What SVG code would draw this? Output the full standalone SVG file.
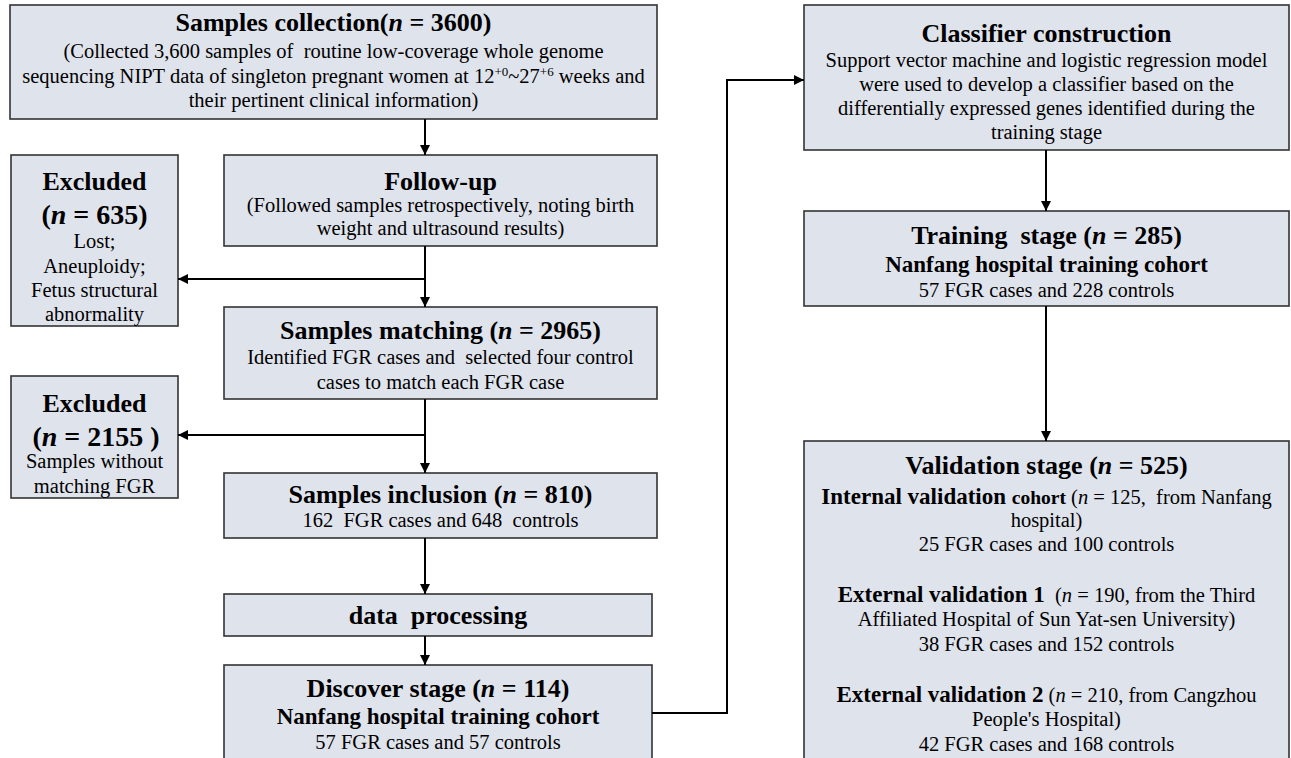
<svg xmlns="http://www.w3.org/2000/svg" width="1291" height="758" viewBox="0 0 1291 758">
<defs>
<marker id="ah" viewBox="0 0 10 10" refX="10" refY="5" markerWidth="5" markerHeight="5" orient="auto" markerUnits="strokeWidth">
<path d="M0,0 L10,5 L0,10 z" fill="#000"/>
</marker>
<style>
.box{fill:#dfe3ec;stroke:#333;stroke-width:1.6}
text{font-family:"Liberation Serif","Times New Roman",serif;fill:#000;text-anchor:middle;white-space:pre}
.t{font-weight:bold;font-size:26px}
.n{font-weight:bold;font-size:28px}
.b{font-size:20.5px}
.bb{font-weight:bold;font-size:23px}
.i{font-style:italic}
.c{fill:none;stroke:#000;stroke-width:2}
</style>
</defs>
<g id="collection">
<rect class="box" x="10" y="5" width="647" height="114"/>
<text class="t" x="333.5" y="31">Samples collection(<tspan class="i">n</tspan> = 3600)</text>
<text class="b" x="333.5" y="58">(Collected 3,600 samples of  routine low-coverage whole genome</text>
<text class="b" x="333.5" y="83">sequencing NIPT data of singleton pregnant women at 12<tspan font-size="13" dy="-7">+0</tspan><tspan dy="7">~27</tspan><tspan font-size="13" dy="-7">+6</tspan><tspan dy="7"> weeks and</tspan></text>
<text class="b" x="333.5" y="107">their pertinent clinical information)</text>
</g>
<g id="followup">
<rect class="box" x="224" y="155" width="433" height="91"/>
<text class="t" x="440.5" y="190">Follow-up</text>
<text class="b" x="440.5" y="212">(Followed samples retrospectively, noting birth</text>
<text class="b" x="440.5" y="235">weight and ultrasound results)</text>
</g>
<g id="excluded1">
<rect class="box" x="11" y="155" width="167" height="171"/>
<text class="t" x="94.5" y="190">Excluded</text>
<text class="n" x="94.5" y="224">(<tspan class="i">n</tspan> = 635)</text>
<text class="b" x="94.5" y="248">Lost;</text>
<text class="b" x="94.5" y="273">Aneuploidy;</text>
<text class="b" x="94.5" y="297">Fetus structural</text>
<text class="b" x="94.5" y="321">abnormality</text>
</g>
<g id="matching">
<rect class="box" x="224" y="307" width="433" height="92"/>
<text class="t" x="440.5" y="339">Samples matching (<tspan class="i">n</tspan> = 2965)</text>
<text class="b" x="440.5" y="364">Identified FGR cases and  selected four control</text>
<text class="b" x="440.5" y="389">cases to match each FGR case</text>
</g>
<g id="excluded2">
<rect class="box" x="11" y="376" width="167" height="122"/>
<text class="t" x="94.5" y="412">Excluded</text>
<text class="n" x="96" y="446">(<tspan class="i">n</tspan> = 2155 )</text>
<text class="b" x="94.5" y="468">Samples without</text>
<text class="b" x="94.5" y="493">matching FGR</text>
</g>
<g id="inclusion">
<rect class="box" x="224" y="473" width="433" height="65"/>
<text class="t" x="440.5" y="503">Samples inclusion (<tspan class="i">n</tspan> = 810)</text>
<text class="b" x="440.5" y="527">162  FGR cases and 648  controls</text>
</g>
<g id="processing">
<rect class="box" x="224" y="594" width="428" height="42"/>
<text class="t" x="438" y="624">data  processing</text>
</g>
<g id="discover">
<rect class="box" x="224" y="665" width="428" height="100"/>
<text class="t" x="438" y="697">Discover stage (<tspan class="i">n</tspan> = 114)</text>
<text class="bb" x="438" y="724">Nanfang hospital training cohort</text>
<text class="b" x="438" y="749">57 FGR cases and 57 controls</text>
</g>
<g id="classifier">
<rect class="box" x="804" y="5" width="485" height="145"/>
<text class="t" x="1046.5" y="42">Classifier construction</text>
<text class="b" x="1046.5" y="67">Support vector machine and logistic regression model</text>
<text class="b" x="1046.5" y="91">were used to develop a classifier based on the</text>
<text class="b" x="1046.5" y="115">differentially expressed genes identified during the</text>
<text class="b" x="1046.5" y="139">training stage</text>
</g>
<g id="training">
<rect class="box" x="804" y="211" width="485" height="95"/>
<text class="t" x="1046.5" y="244">Training  stage (<tspan class="i">n</tspan> = 285)</text>
<text class="bb" x="1046.5" y="272">Nanfang hospital training cohort</text>
<text class="b" x="1046.5" y="297">57 FGR cases and 228 controls</text>
</g>
<g id="validation">
<rect class="box" x="804" y="441" width="485" height="324"/>
<text class="t" x="1046.5" y="474">Validation stage (<tspan class="i">n</tspan> = 525)</text>
<text class="b" x="1046.5" y="504"><tspan class="bb">Internal validation </tspan><tspan font-weight="bold" font-size="19.5">cohort</tspan> (<tspan class="i">n</tspan> = 125,  from Nanfang</text>
<text class="b" x="1046.5" y="527">hospital)</text>
<text class="b" x="1046.5" y="551">25 FGR cases and 100 controls</text>
<text class="b" x="1046.5" y="602"><tspan class="bb">External validation 1</tspan>  (<tspan class="i">n</tspan> = 190, from the Third</text>
<text class="b" x="1046.5" y="626">Affiliated Hospital of Sun Yat-sen University)</text>
<text class="b" x="1046.5" y="651">38 FGR cases and 152 controls</text>
<text class="b" x="1046.5" y="702"><tspan class="bb">External validation 2</tspan> (<tspan class="i">n</tspan> = 210, from Cangzhou</text>
<text class="b" x="1046.5" y="726">People's Hospital)</text>
<text class="b" x="1046.5" y="751">42 FGR cases and 168 controls</text>
</g>
<g id="connectors">
<path class="c" d="M425,119 V155" marker-end="url(#ah)"/>
<path class="c" d="M425,246 V307" marker-end="url(#ah)"/>
<path class="c" d="M425,279 H178" marker-end="url(#ah)"/>
<path class="c" d="M425,399 V473" marker-end="url(#ah)"/>
<path class="c" d="M425,435 H178" marker-end="url(#ah)"/>
<path class="c" d="M425,538 V594" marker-end="url(#ah)"/>
<path class="c" d="M425,636 V665" marker-end="url(#ah)"/>
<path class="c" d="M652,713 H727 V80 H804" marker-end="url(#ah)"/>
<path class="c" d="M1046,150 V211" marker-end="url(#ah)"/>
<path class="c" d="M1046,306 V441" marker-end="url(#ah)"/>
</g>
</svg>
